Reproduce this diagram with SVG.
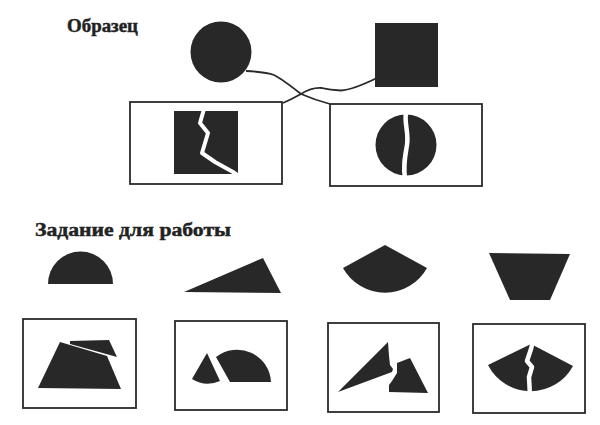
<svg xmlns="http://www.w3.org/2000/svg" width="600" height="425" viewBox="0 0 600 425">
<style>
.bg{fill:#ffffff}
.shape{fill:#282828;stroke:none}
.box{fill:none;stroke:#2a2a2a;stroke-width:1.8}
.crack{fill:none;stroke:#ffffff;stroke-linejoin:round;stroke-linecap:round}
.wire{fill:none;stroke:#2a2a2a;stroke-width:1.8;stroke-linejoin:round}
.title{font-family:"Liberation Serif","DejaVu Serif",serif;font-weight:bold;font-size:18.5px;fill:#222;stroke:#222;stroke-width:0.45}
</style>
<rect class="bg" x="0" y="0" width="600" height="425"/>

<text class="title" x="67" y="32" textLength="71" lengthAdjust="spacingAndGlyphs">Образец</text>
<text class="title" x="35" y="236" textLength="196" lengthAdjust="spacingAndGlyphs">Задание для работы</text>

<g id="sample-circle">
  <circle class="shape" cx="221" cy="52" r="30.5"/>
</g>
<g id="sample-square">
  <rect class="shape" x="375" y="23" width="63" height="64"/>
</g>

<g id="connectors">
  <path class="wire" d="M246,71 Q266,72 274,75 Q282,79 301,94 Q315,100 330,104"/>
  <path class="wire" d="M377,78 Q352,90 341,90.5 Q330,90 322,88 Q312,87 301,94 Q292,99 283,103"/>
</g>

<g id="sample-box-square">
  <rect class="box" x="130" y="102" width="152" height="82"/>
  <rect class="shape" x="174" y="111" width="64" height="63"/>
  <polyline class="crack" stroke-width="4" points="204,109 200,123 208,133 202,153 215,162 233,172 240,177"/>
</g>

<g id="sample-box-circle">
  <rect class="box" x="330" y="104" width="152" height="82"/>
  <circle class="shape" cx="406" cy="145" r="30.5"/>
  <path class="crack" stroke-width="4.5" d="M406,112 C404,124 409,132 407,145 C405,157 403,166 405,178"/>
</g>

<g id="task-semicircle">
  <path class="shape" d="M48,284 A32.5,32.5 0 0,1 113,284 Z"/>
</g>
<g id="task-triangle">
  <polygon class="shape" points="184,292 263,258 281,293"/>
</g>
<g id="task-sector">
  <path class="shape" d="M385,245 L427,268 A48,48 0 0,1 343,268 Z"/>
</g>
<g id="task-trapezoid">
  <polygon class="shape" points="489,253 570,254 550,300 510,300"/>
</g>

<g id="answer-box-1">
  <rect class="box" x="23" y="319" width="113" height="89"/>
  <polygon class="shape" points="60,342 107,356 121,389 38,388"/>
  <polygon class="shape" points="70,341 109,340 117,357 70,344"/>
</g>
<g id="answer-box-2">
  <rect class="box" x="175" y="321" width="112" height="89"/>
  <path class="shape" d="M230,382 L271,382 A34,34 0 0,0 216,357 Z"/>
  <path class="shape" d="M207,353 L220,381 A30,30 0 0,1 192,379 Z"/>
</g>
<g id="answer-box-3">
  <rect class="box" x="328" y="323" width="111" height="89"/>
  <polygon class="shape" points="338,392 388,342 389,356 390,365 393,369 392,372"/>
  <polygon class="shape" points="397,363 410,358 428,393 389,392 389,385 392,381 397,373"/>
</g>
<g id="answer-box-4">
  <rect class="box" x="473" y="324" width="112" height="89"/>
  <path class="shape" d="M531,344 L573,366 A48,48 0 0,1 488,365 Z"/>
  <polyline class="crack" stroke-width="4.5" points="533,341 531,349 527,361 532,367 529,377 530,396"/>
</g>
</svg>
